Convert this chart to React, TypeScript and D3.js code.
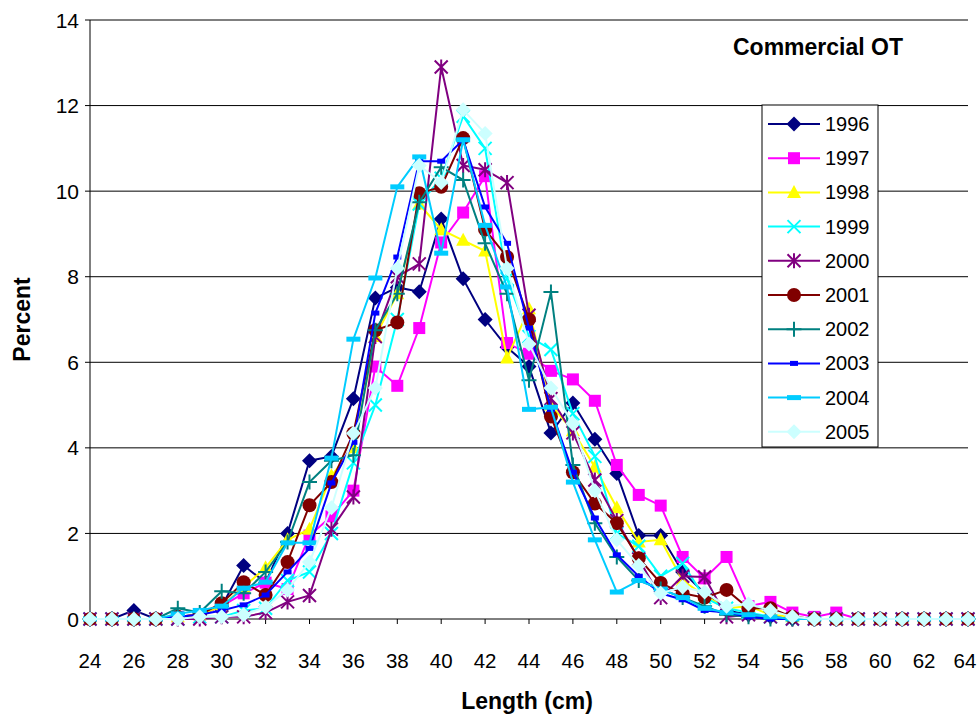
import React from "react";
import * as d3 from "d3";

const lengths: number[] = d3.range(24, 65);
const xTicks: number[] = d3.range(24, 65, 2);
const yTicks: number[] = d3.range(0, 15, 2);

const years: string[] = ["1996", "1997", "1998", "1999", "2000", "2001", "2002", "2003", "2004", "2005"];

const s1996 = [0,0,0.2,0,0.05,0.1,0.3,1.25,0.85,2.0,3.7,3.8,5.15,7.5,7.75,7.65,9.35,7.95,7.0,6.35,5.9,4.35,5.05,4.2,3.4,1.95,1.95,1.1,0.6,0.2,0.1,0.05,0,0,0,0,0,0,0,0,0];
const s1997 = [0,0,0,0,0.05,0.1,0.3,0.6,0.85,0.7,1.95,2.4,3.0,5.9,5.45,6.8,8.8,9.5,10.35,6.45,6.2,5.8,5.6,5.1,3.6,2.9,2.65,1.45,0.95,1.45,0.3,0.4,0.15,0.05,0.15,0,0,0,0,0,0];
const s1998 = [0,0,0,0,0.05,0.1,0.3,0.75,1.2,1.85,2.1,3.35,4.0,6.6,7.6,9.7,9.1,8.85,8.6,6.1,7.25,5.0,4.4,3.55,2.6,1.8,1.85,0.9,0.55,0.25,0.3,0.1,0.05,0,0,0,0,0,0,0,0];
const s1999 = [0,0,0,0,0,0.05,0.05,0.2,0.25,0.9,1.1,2.0,3.65,5.0,7.0,9.7,10.3,11.75,11.0,7.95,6.6,6.3,4.8,3.8,2.0,1.7,1.0,1.3,0.5,0.25,0.15,0.05,0,0,0,0,0,0,0,0,0];
const s2000 = [0,0,0,0,0,0,0.05,0.05,0.15,0.4,0.55,2.1,2.85,6.6,8.0,8.3,12.9,10.6,10.5,10.2,7.1,5.15,4.35,3.25,2.3,1.4,0.5,1.0,0.98,0.05,0.1,0.05,0,0,0,0,0,0,0,0,0];
const s2001 = [0,0,0,0,0.05,0.1,0.37,0.86,0.56,1.33,2.66,3.2,4.34,6.75,6.93,9.95,10.1,11.24,9.1,8.46,7.0,4.73,3.43,2.7,2.24,1.42,0.84,0.6,0.5,0.68,0.25,0.25,0.05,0,0,0,0,0,0,0,0];
const s2002 = [0,0,0,0,0.25,0.15,0.65,0.6,1.1,1.8,3.2,3.7,3.83,6.75,7.6,9.74,10.56,10.26,8.78,7.6,5.58,7.64,3.6,2.24,1.45,0.9,0.7,0.5,0.3,0.1,0.05,0,0,0,0,0,0,0,0,0,0];
const s2003 = [0,0,0,0,0.05,0.1,0.2,0.33,0.56,1.1,1.65,3.18,4.13,7.15,8.46,10.7,10.7,11.2,9.63,8.78,6.8,4.9,3.43,2.36,1.5,1.0,0.6,0.45,0.2,0.15,0.05,0,0,0,0,0,0,0,0,0,0];
const s2004 = [0,0,0,0,0.12,0.2,0.3,0.72,0.86,1.78,1.78,3.76,6.54,7.97,10.1,10.8,8.55,11.2,9.2,7.76,4.9,4.95,3.2,1.85,0.63,0.9,0.7,0.5,0.25,0.15,0.1,0.05,0,0,0,0,0,0,0,0,0];
const s2005 = [0,0,0,0,0,0.05,0.05,0.1,0.28,0.68,1.33,2.6,4.34,5.4,8.2,10.6,10.2,11.9,11.35,8.2,6.43,5.4,4.57,3.0,1.85,1.25,0.6,0.75,0.63,0.3,0.35,0.2,0.05,0,0,0,0,0,0,0,0];

const seriesValues: number[][] = [s1996, s1997, s1998, s1999, s2000, s2001, s2002, s2003, s2004, s2005];
const colors: string[] = ["#000080", "#FF00FF", "#FFFF00", "#00FFFF", "#800080", "#800000", "#008080", "#0000FF", "#00CCFF", "#CCFFFF"];
const markers: string[] = ["diamond", "square", "triangle", "x", "asterisk", "circle", "plus", "dashSmall", "dashBig", "diamond"];

const FONT = "'Liberation Sans', Arial, sans-serif";

function Marker({ type, x, y, color }: { type: string; x: number; y: number; color: string }) {
  switch (type) {
    case "diamond":
      return <path d={`M${x},${y - 7.5}L${x + 7.5},${y}L${x},${y + 7.5}L${x - 7.5},${y}Z`} fill={color} />;
    case "square":
      return <rect x={x - 6} y={y - 6} width={12} height={12} fill={color} />;
    case "triangle":
      return <path d={`M${x},${y - 7.5}L${x + 7},${y + 5.5}L${x - 7},${y + 5.5}Z`} fill={color} />;
    case "x":
      return <path d={`M${x - 6.5},${y - 6.5}L${x + 6.5},${y + 6.5}M${x - 6.5},${y + 6.5}L${x + 6.5},${y - 6.5}`} stroke={color} strokeWidth={2} />;
    case "asterisk":
      return <path d={`M${x - 6.5},${y - 6.5}L${x + 6.5},${y + 6.5}M${x - 6.5},${y + 6.5}L${x + 6.5},${y - 6.5}M${x},${y - 7.5}L${x},${y + 7.5}`} stroke={color} strokeWidth={2} />;
    case "circle":
      return <circle cx={x} cy={y} r={7} fill={color} />;
    case "plus":
      return <path d={`M${x - 7.5},${y}L${x + 7.5},${y}M${x},${y - 7.5}L${x},${y + 7.5}`} stroke={color} strokeWidth={2} />;
    case "dashSmall":
      return <rect x={x - 4} y={y - 2.5} width={8} height={5} fill={color} />;
    case "dashBig":
      return <rect x={x - 7} y={y - 2.5} width={14} height={5} fill={color} />;
    default:
      return null;
  }
}

export default function App() {
  const W = 978, H = 717;
  const left = 90, right = 968, top = 20, bottom = 619;
  const x = d3.scaleLinear().domain([24, 64]).range([left, right]);
  const y = d3.scaleLinear().domain([0, 14]).range([bottom, top]);
  const line = d3.line<number>().x((_, i) => x(lengths[i])).y((d) => y(d));

  const legX = 762, legY = 105, legW = 116, legH = 342;
  const legStep = 34.2;

  return (
    <svg width={W} height={H} style={{ position: "absolute", left: 0, top: 0, background: "#fff" }} fontFamily={FONT}>
      <rect x={0} y={0} width={W} height={H} fill="#fff" />
      {yTicks.filter((t) => t > 0).map((t) => (
        <line key={t} x1={left} x2={right} y1={y(t)} y2={y(t)} stroke="#000" strokeWidth={1} />
      ))}
      <line x1={left} x2={left} y1={top} y2={bottom} stroke="#000" strokeWidth={1} />
      <line x1={left} x2={right} y1={bottom} y2={bottom} stroke="#000" strokeWidth={1} />
      {yTicks.map((t) => (
        <g key={t}>
          <line x1={left - 5} x2={left} y1={y(t)} y2={y(t)} stroke="#000" />
          <text x={left - 11} y={y(t) + 7.5} textAnchor="end" fontSize={21}>{t}</text>
        </g>
      ))}
      {xTicks.map((t) => (
        <g key={t}>
          <line x1={x(t)} x2={x(t)} y1={bottom} y2={bottom + 5} stroke="#000" />
          <text x={Math.min(x(t), W - 13)} y={668} textAnchor="middle" fontSize={20.5}>{t}</text>
        </g>
      ))}
      {seriesValues.map((vals, si) => (
        <g key={years[si]}>
          <path d={line(vals) || ""} fill="none" stroke={colors[si]} strokeWidth={2} />
          {vals.map((v, i) => (
            <Marker key={i} type={markers[si]} x={x(lengths[i])} y={y(v)} color={colors[si]} />
          ))}
        </g>
      ))}
      <text x={818} y={55} textAnchor="middle" fontSize={23} fontWeight="bold">Commercial OT</text>
      <text x={527} y={709} textAnchor="middle" fontSize={23} fontWeight="bold">Length (cm)</text>
      <text transform={`translate(30,${(top + bottom) / 2}) rotate(-90)`} textAnchor="middle" fontSize={23} fontWeight="bold">Percent</text>
      <rect x={legX} y={legY} width={legW} height={legH} fill="#fff" stroke="#000" strokeWidth={1} />
      {years.map((yr, i) => {
        const cy = legY + 19 + i * legStep;
        return (
          <g key={yr}>
            <line x1={legX + 6} x2={legX + 58} y1={cy} y2={cy} stroke={colors[i]} strokeWidth={2} />
            <Marker type={markers[i]} x={legX + 32} y={cy} color={colors[i]} />
            <text x={legX + 63} y={cy + 7} fontSize={20}>{yr}</text>
          </g>
        );
      })}
    </svg>
  );
}
